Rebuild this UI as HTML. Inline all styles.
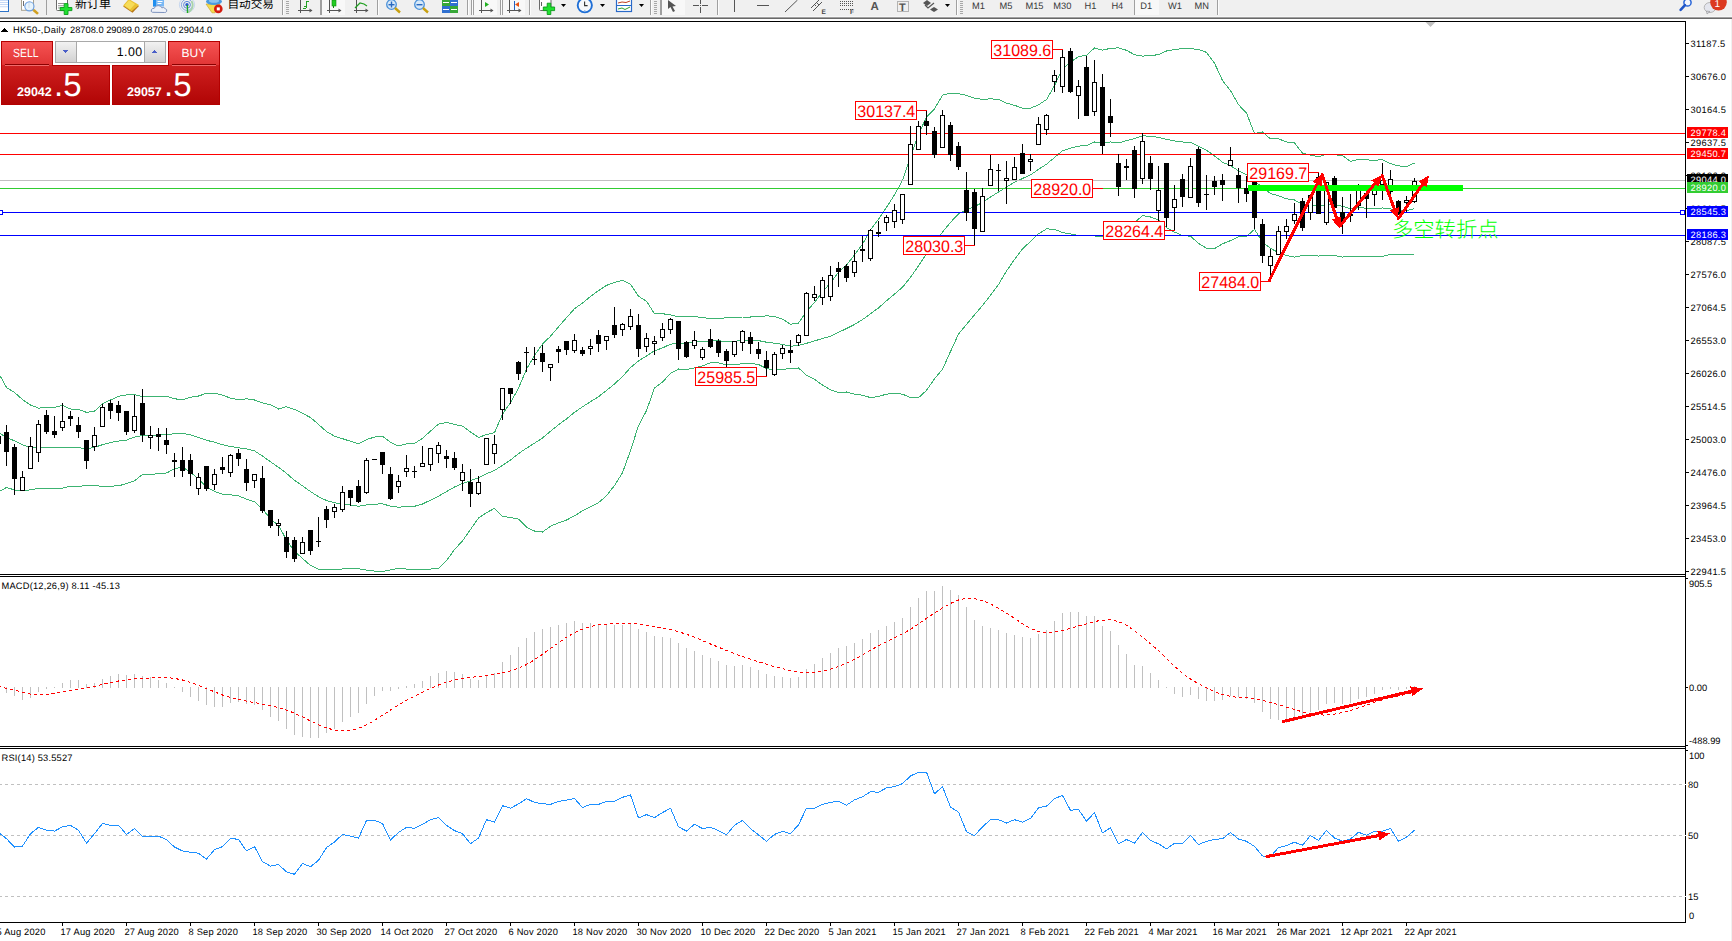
<!DOCTYPE html>
<html><head><meta charset="utf-8"><title>HK50 Daily</title>
<style>
html,body{margin:0;padding:0;background:#fff;width:1732px;height:941px;overflow:hidden;}
svg{display:block;}
text{white-space:pre;}
</style></head><body>
<svg width="1732" height="941" viewBox="0 0 1732 941" shape-rendering="crispEdges" text-rendering="geometricPrecision">
<defs>
<clipPath id="cmain"><rect x="0" y="22" width="1685" height="552"/></clipPath>
<clipPath id="cmacd"><rect x="0" y="577" width="1685" height="169"/></clipPath>
<clipPath id="crsi"><rect x="0" y="749" width="1685" height="173"/></clipPath>
<linearGradient id="gtab" x1="0" y1="0" x2="0" y2="1"><stop offset="0" stop-color="#f65454"/><stop offset="1" stop-color="#e13535"/></linearGradient>
<linearGradient id="gpan" x1="0" y1="0" x2="0" y2="1"><stop offset="0" stop-color="#e03030"/><stop offset="1" stop-color="#b00404"/></linearGradient>
<linearGradient id="gbtn" x1="0" y1="0" x2="0" y2="1"><stop offset="0" stop-color="#f2f2f2"/><stop offset="1" stop-color="#d2d2d2"/></linearGradient>
</defs>
<rect x="0" y="0" width="1732" height="941" fill="#fff"/>
<rect x="0" y="0" width="1732" height="16" fill="#f0f0f0"/>
<rect x="0" y="16" width="1732" height="1" fill="#f7f7f7"/>
<rect x="0" y="17" width="1732" height="1" fill="#a0a0a0"/>
<rect x="0" y="18" width="1732" height="1" fill="#696969"/>
<rect x="1731" y="19" width="1" height="922" fill="#f0f0f0"/>
<g clip-path="url(#cmain)" font-family="'Liberation Sans', Arial, sans-serif"><polyline points="-1.5,373.0 6.5,387.5 14.5,392.5 22.5,399.6 30.5,405.0 38.5,408.1 46.5,407.5 54.5,407.3 62.5,405.3 70.5,409.0 78.5,409.4 86.5,412.4 94.5,411.2 102.5,403.6 110.5,400.0 118.5,396.3 126.5,395.0 134.5,394.6 142.5,396.5 150.5,396.2 158.5,396.1 166.5,396.2 174.5,398.7 182.5,399.9 190.5,397.3 198.5,396.0 206.5,393.3 214.5,393.1 222.5,395.1 230.5,398.2 238.5,399.7 246.5,398.8 254.5,400.0 262.5,402.9 270.5,404.7 278.5,409.0 286.5,406.7 294.5,409.4 302.5,413.2 310.5,417.6 318.5,424.4 326.5,431.6 334.5,436.2 342.5,438.7 350.5,441.3 358.5,443.8 366.5,439.6 374.5,437.1 382.5,436.3 390.5,442.2 398.5,446.0 406.5,443.9 414.5,443.4 422.5,438.4 430.5,431.1 438.5,424.1 446.5,422.4 454.5,424.5 462.5,426.1 470.5,431.9 478.5,437.4 486.5,434.6 494.5,432.7 502.5,414.2 510.5,402.5 518.5,388.2 526.5,369.2 534.5,355.4 542.5,344.0 550.5,336.3 558.5,326.8 566.5,317.7 574.5,308.7 582.5,303.0 590.5,296.5 598.5,290.6 606.5,285.4 614.5,282.3 622.5,280.3 630.5,284.4 638.5,296.3 646.5,301.2 654.5,313.7 662.5,313.7 670.5,314.9 678.5,316.8 686.5,316.7 694.5,316.7 702.5,317.4 710.5,318.7 718.5,318.6 726.5,317.8 734.5,317.9 742.5,317.0 750.5,317.0 758.5,316.8 766.5,315.8 774.5,316.4 782.5,319.1 790.5,324.3 798.5,323.1 806.5,311.4 814.5,302.5 822.5,292.0 830.5,282.8 838.5,272.4 846.5,265.0 854.5,255.0 862.5,244.1 870.5,230.0 878.5,219.2 886.5,207.3 894.5,194.8 902.5,180.4 910.5,157.0 918.5,134.1 926.5,117.3 934.5,108.9 942.5,95.1 950.5,93.2 958.5,93.7 966.5,95.3 974.5,98.3 982.5,99.4 990.5,98.8 998.5,99.4 1006.5,103.1 1014.5,105.3 1022.5,108.1 1030.5,108.2 1038.5,104.9 1046.5,99.6 1054.5,85.7 1062.5,68.8 1070.5,62.2 1078.5,56.5 1086.5,55.5 1094.5,47.9 1102.5,50.2 1110.5,48.3 1118.5,47.9 1126.5,50.3 1134.5,54.7 1142.5,56.1 1150.5,55.7 1158.5,54.6 1166.5,51.0 1174.5,49.6 1182.5,48.6 1190.5,48.6 1198.5,49.5 1206.5,52.4 1214.5,63.1 1222.5,80.6 1230.5,90.7 1238.5,104.7 1246.5,113.0 1254.5,133.6 1262.5,131.9 1270.5,139.0 1278.5,138.9 1286.5,141.9 1294.5,143.0 1302.5,153.2 1310.5,155.1 1318.5,156.7 1326.5,154.1 1334.5,154.7 1342.5,155.6 1350.5,161.4 1358.5,159.4 1366.5,159.9 1374.5,160.3 1382.5,159.6 1390.5,163.6 1398.5,165.9 1406.5,166.6 1414.5,163.0" fill="none" stroke="#3cb371" stroke-width="1" /><polyline points="-1.5,432.7 6.5,437.4 14.5,440.9 22.5,444.8 30.5,447.3 38.5,447.8 46.5,447.4 54.5,447.5 62.5,447.6 70.5,447.6 78.5,447.6 86.5,448.8 94.5,447.3 102.5,444.7 110.5,442.5 118.5,441.1 126.5,440.1 134.5,437.1 142.5,435.6 150.5,435.3 158.5,434.9 166.5,434.6 174.5,433.7 182.5,433.4 190.5,434.8 198.5,437.4 206.5,440.3 214.5,442.2 222.5,444.7 230.5,446.5 238.5,447.8 246.5,448.9 254.5,450.9 262.5,456.1 270.5,461.8 278.5,467.3 286.5,473.3 294.5,480.4 302.5,485.8 310.5,491.6 318.5,496.7 326.5,500.5 334.5,502.8 342.5,503.9 350.5,505.0 358.5,506.3 366.5,504.9 374.5,504.1 382.5,503.9 390.5,506.1 398.5,507.2 406.5,506.5 414.5,506.3 422.5,504.0 430.5,500.1 438.5,496.2 446.5,491.6 454.5,487.0 462.5,483.5 470.5,480.7 478.5,477.7 486.5,473.6 494.5,470.5 502.5,465.3 510.5,460.1 518.5,453.6 526.5,448.2 534.5,443.2 542.5,438.0 550.5,431.3 558.5,424.8 566.5,418.9 574.5,412.3 582.5,406.8 590.5,401.7 598.5,396.7 606.5,390.5 614.5,383.9 622.5,376.5 630.5,367.6 638.5,360.9 646.5,356.0 654.5,350.8 662.5,347.9 670.5,344.2 678.5,342.9 686.5,343.2 694.5,342.2 702.5,341.6 710.5,340.8 718.5,340.8 726.5,341.4 734.5,341.4 742.5,340.3 750.5,340.1 758.5,340.6 766.5,342.2 774.5,343.2 782.5,344.4 790.5,346.2 798.5,345.5 806.5,343.3 814.5,340.9 822.5,338.5 830.5,336.3 838.5,332.4 846.5,328.5 854.5,324.5 862.5,319.6 870.5,313.8 878.5,307.9 886.5,300.7 894.5,294.1 902.5,287.3 910.5,277.3 918.5,265.9 926.5,253.8 934.5,243.8 942.5,232.2 950.5,222.3 958.5,213.9 966.5,209.9 974.5,206.6 982.5,202.4 990.5,197.1 998.5,192.0 1006.5,187.0 1014.5,182.3 1022.5,178.5 1030.5,174.9 1038.5,169.4 1046.5,164.2 1054.5,157.5 1062.5,150.7 1070.5,148.1 1078.5,146.1 1086.5,145.6 1094.5,142.0 1102.5,143.5 1110.5,141.9 1118.5,142.9 1126.5,140.6 1134.5,138.6 1142.5,135.8 1150.5,136.3 1158.5,137.3 1166.5,139.3 1174.5,140.9 1182.5,142.0 1190.5,142.4 1198.5,146.4 1206.5,150.3 1214.5,155.9 1222.5,162.2 1230.5,165.7 1238.5,170.8 1246.5,174.7 1254.5,181.4 1262.5,186.9 1270.5,193.6 1278.5,195.8 1286.5,198.8 1294.5,200.0 1302.5,204.4 1310.5,205.2 1318.5,206.4 1326.5,204.6 1334.5,205.1 1342.5,206.3 1350.5,208.7 1358.5,207.8 1366.5,208.1 1374.5,208.2 1382.5,208.0 1390.5,208.9 1398.5,210.3 1406.5,210.6 1414.5,208.7" fill="none" stroke="#3cb371" stroke-width="1" /><polyline points="-1.5,492.0 6.5,487.4 14.5,490.0 22.5,490.8 30.5,489.8 38.5,488.4 46.5,488.4 54.5,488.3 62.5,488.2 70.5,486.2 78.5,486.3 86.5,485.6 94.5,485.4 102.5,486.4 110.5,486.1 118.5,485.9 126.5,483.5 134.5,480.8 142.5,474.5 150.5,474.3 158.5,473.8 166.5,473.0 174.5,468.8 182.5,466.9 190.5,472.3 198.5,478.9 206.5,487.3 214.5,491.4 222.5,494.3 230.5,494.8 238.5,495.9 246.5,499.1 254.5,501.8 262.5,509.2 270.5,518.9 278.5,525.6 286.5,539.8 294.5,551.4 302.5,558.4 310.5,565.5 318.5,569.1 326.5,569.4 334.5,569.4 342.5,569.0 350.5,568.8 358.5,568.8 366.5,570.1 374.5,571.1 382.5,571.4 390.5,569.9 398.5,568.3 406.5,569.1 414.5,569.2 422.5,569.5 430.5,569.1 438.5,568.3 446.5,560.7 454.5,549.5 462.5,540.9 470.5,529.4 478.5,518.1 486.5,512.7 494.5,508.3 502.5,516.3 510.5,517.6 518.5,519.1 526.5,527.2 534.5,531.0 542.5,532.1 550.5,526.2 558.5,522.9 566.5,520.0 574.5,515.9 582.5,510.6 590.5,506.9 598.5,502.7 606.5,495.7 614.5,485.5 622.5,472.7 630.5,450.8 638.5,425.6 646.5,410.7 654.5,387.9 662.5,382.0 670.5,373.5 678.5,369.0 686.5,369.7 694.5,367.8 702.5,365.8 710.5,362.8 718.5,362.9 726.5,364.9 734.5,365.0 742.5,363.5 750.5,363.3 758.5,364.5 766.5,368.6 774.5,369.9 782.5,369.7 790.5,368.2 798.5,368.0 806.5,375.2 814.5,379.4 822.5,385.0 830.5,389.8 838.5,392.5 846.5,392.0 854.5,394.1 862.5,395.2 870.5,397.6 878.5,396.5 886.5,394.1 894.5,393.5 902.5,394.1 910.5,397.6 918.5,397.7 926.5,390.4 934.5,378.8 942.5,369.3 950.5,351.5 958.5,334.1 966.5,324.5 974.5,314.9 982.5,305.4 990.5,295.3 998.5,284.6 1006.5,271.0 1014.5,259.4 1022.5,248.8 1030.5,241.5 1038.5,233.8 1046.5,228.9 1054.5,229.3 1062.5,232.6 1070.5,233.9 1078.5,235.6 1086.5,235.7 1094.5,236.0 1102.5,236.8 1110.5,235.4 1118.5,237.8 1126.5,230.9 1134.5,222.6 1142.5,215.6 1150.5,217.0 1158.5,220.1 1166.5,227.6 1174.5,232.1 1182.5,235.5 1190.5,236.2 1198.5,243.3 1206.5,248.2 1214.5,248.6 1222.5,243.8 1230.5,240.6 1238.5,236.8 1246.5,236.4 1254.5,229.3 1262.5,242.0 1270.5,248.3 1278.5,252.7 1286.5,255.6 1294.5,257.1 1302.5,255.6 1310.5,255.2 1318.5,256.1 1326.5,255.1 1334.5,255.5 1342.5,257.1 1350.5,256.1 1358.5,256.3 1366.5,256.3 1374.5,256.2 1382.5,256.4 1390.5,254.3 1398.5,254.6 1406.5,254.5 1414.5,254.4" fill="none" stroke="#3cb371" stroke-width="1" /><rect x="0" y="133" width="1685" height="1" fill="#ff0000"/><rect x="0" y="154" width="1685" height="1" fill="#ff0000"/><rect x="0" y="180" width="1685" height="1" fill="#c0c0c0"/><rect x="0" y="188" width="1685" height="1" fill="#32cd32"/><rect x="0" y="212" width="1685" height="1" fill="#0000ff"/><rect x="0" y="235" width="1685" height="1" fill="#0000ff"/><rect x="-1.5" y="210.5" width="4" height="4" fill="#fff" stroke="#0000ff"/><rect x="1680.5" y="210.5" width="4" height="4" fill="#fff" stroke="#0000ff"/><rect x="-2" y="425" width="1" height="27"/><rect x="-4" y="436" width="5" height="8"/><rect x="6" y="425" width="1" height="41"/><rect x="4" y="432" width="5" height="20"/><rect x="14" y="444" width="1" height="51"/><rect x="12" y="447" width="5" height="32"/><rect x="22" y="471" width="1" height="20"/><rect x="20" y="477" width="5" height="14"/><rect x="21" y="478" width="3" height="12" fill="#fff"/><rect x="30" y="437" width="1" height="32"/><rect x="28" y="446" width="5" height="23"/><rect x="29" y="447" width="3" height="21" fill="#fff"/><rect x="38" y="420" width="1" height="42"/><rect x="36" y="424" width="5" height="29"/><rect x="37" y="425" width="3" height="27" fill="#fff"/><rect x="46" y="410" width="1" height="24"/><rect x="44" y="415" width="5" height="17"/><rect x="54" y="416" width="1" height="22"/><rect x="52" y="431" width="5" height="4"/><rect x="62" y="403" width="1" height="28"/><rect x="60" y="421" width="5" height="7"/><rect x="61" y="422" width="3" height="5" fill="#fff"/><rect x="70" y="411" width="1" height="15"/><rect x="68" y="416" width="5" height="3"/><rect x="78" y="417" width="1" height="21"/><rect x="76" y="425" width="5" height="7"/><rect x="86" y="440" width="1" height="29"/><rect x="84" y="440" width="5" height="21"/><rect x="94" y="427" width="1" height="24"/><rect x="92" y="435" width="5" height="12"/><rect x="93" y="436" width="3" height="10" fill="#fff"/><rect x="102" y="404" width="1" height="23"/><rect x="100" y="407" width="5" height="20"/><rect x="101" y="408" width="3" height="18" fill="#fff"/><rect x="110" y="400" width="1" height="19"/><rect x="108" y="403" width="5" height="8"/><rect x="118" y="401" width="1" height="20"/><rect x="116" y="405" width="5" height="8"/><rect x="126" y="411" width="1" height="24"/><rect x="124" y="411" width="5" height="21"/><rect x="134" y="395" width="1" height="38"/><rect x="132" y="416" width="5" height="15"/><rect x="133" y="417" width="3" height="13" fill="#fff"/><rect x="142" y="389" width="1" height="53"/><rect x="140" y="403" width="5" height="32"/><rect x="150" y="426" width="1" height="23"/><rect x="148" y="435" width="5" height="3"/><rect x="149" y="436" width="3" height="1" fill="#fff"/><rect x="158" y="428" width="1" height="23"/><rect x="156" y="434" width="5" height="3"/><rect x="166" y="428" width="1" height="26"/><rect x="164" y="440" width="5" height="5"/><rect x="174" y="453" width="1" height="24"/><rect x="172" y="460" width="5" height="2"/><rect x="182" y="447" width="1" height="30"/><rect x="180" y="460" width="5" height="11"/><rect x="190" y="454" width="1" height="32"/><rect x="188" y="460" width="5" height="14"/><rect x="198" y="473" width="1" height="22"/><rect x="196" y="477" width="5" height="12"/><rect x="197" y="478" width="3" height="10" fill="#fff"/><rect x="206" y="466" width="1" height="25"/><rect x="204" y="466" width="5" height="23"/><rect x="214" y="469" width="1" height="21"/><rect x="212" y="474" width="5" height="11"/><rect x="213" y="475" width="3" height="9" fill="#fff"/><rect x="222" y="457" width="1" height="17"/><rect x="220" y="467" width="5" height="3"/><rect x="230" y="454" width="1" height="23"/><rect x="228" y="455" width="5" height="18"/><rect x="229" y="456" width="3" height="16" fill="#fff"/><rect x="238" y="449" width="1" height="17"/><rect x="236" y="453" width="5" height="6"/><rect x="246" y="459" width="1" height="32"/><rect x="244" y="469" width="5" height="14"/><rect x="254" y="474" width="1" height="14"/><rect x="252" y="474" width="5" height="7"/><rect x="253" y="475" width="3" height="5" fill="#fff"/><rect x="262" y="466" width="1" height="47"/><rect x="260" y="478" width="5" height="33"/><rect x="270" y="510" width="1" height="18"/><rect x="268" y="510" width="5" height="16"/><rect x="278" y="519" width="1" height="17"/><rect x="276" y="523" width="5" height="3"/><rect x="277" y="524" width="3" height="1" fill="#fff"/><rect x="286" y="531" width="1" height="27"/><rect x="284" y="537" width="5" height="15"/><rect x="294" y="537" width="1" height="25"/><rect x="292" y="540" width="5" height="19"/><rect x="302" y="537" width="1" height="17"/><rect x="300" y="542" width="5" height="12"/><rect x="301" y="543" width="3" height="10" fill="#fff"/><rect x="310" y="530" width="1" height="25"/><rect x="308" y="530" width="5" height="21"/><rect x="318" y="517" width="1" height="30"/><rect x="316" y="541" width="5" height="1"/><rect x="326" y="506" width="1" height="22"/><rect x="324" y="509" width="5" height="11"/><rect x="334" y="504" width="1" height="14"/><rect x="332" y="507" width="5" height="5"/><rect x="333" y="508" width="3" height="3" fill="#fff"/><rect x="342" y="486" width="1" height="26"/><rect x="340" y="492" width="5" height="18"/><rect x="341" y="493" width="3" height="16" fill="#fff"/><rect x="350" y="490" width="1" height="16"/><rect x="348" y="490" width="5" height="8"/><rect x="358" y="480" width="1" height="23"/><rect x="356" y="486" width="5" height="16"/><rect x="366" y="458" width="1" height="36"/><rect x="364" y="460" width="5" height="33"/><rect x="365" y="461" width="3" height="31" fill="#fff"/><rect x="374" y="459" width="1" height="1"/><rect x="372" y="459" width="5" height="1"/><rect x="382" y="452" width="1" height="22"/><rect x="380" y="452" width="5" height="13"/><rect x="390" y="467" width="1" height="33"/><rect x="388" y="474" width="5" height="25"/><rect x="398" y="475" width="1" height="18"/><rect x="396" y="481" width="5" height="6"/><rect x="397" y="482" width="3" height="4" fill="#fff"/><rect x="406" y="455" width="1" height="22"/><rect x="404" y="468" width="5" height="4"/><rect x="405" y="469" width="3" height="2" fill="#fff"/><rect x="414" y="466" width="1" height="12"/><rect x="412" y="471" width="5" height="1"/><rect x="422" y="446" width="1" height="21"/><rect x="420" y="463" width="5" height="4"/><rect x="421" y="464" width="3" height="2" fill="#fff"/><rect x="430" y="448" width="1" height="23"/><rect x="428" y="448" width="5" height="17"/><rect x="429" y="449" width="3" height="15" fill="#fff"/><rect x="438" y="442" width="1" height="21"/><rect x="436" y="445" width="5" height="9"/><rect x="437" y="446" width="3" height="7" fill="#fff"/><rect x="446" y="450" width="1" height="18"/><rect x="444" y="456" width="5" height="3"/><rect x="454" y="452" width="1" height="18"/><rect x="452" y="458" width="5" height="10"/><rect x="462" y="464" width="1" height="27"/><rect x="460" y="472" width="5" height="9"/><rect x="461" y="473" width="3" height="7" fill="#fff"/><rect x="470" y="469" width="1" height="38"/><rect x="468" y="482" width="5" height="12"/><rect x="478" y="476" width="1" height="19"/><rect x="476" y="482" width="5" height="12"/><rect x="477" y="483" width="3" height="10" fill="#fff"/><rect x="486" y="438" width="1" height="27"/><rect x="484" y="438" width="5" height="27"/><rect x="485" y="439" width="3" height="25" fill="#fff"/><rect x="494" y="435" width="1" height="29"/><rect x="492" y="444" width="5" height="10"/><rect x="493" y="445" width="3" height="8" fill="#fff"/><rect x="502" y="388" width="1" height="32"/><rect x="500" y="388" width="5" height="22"/><rect x="501" y="389" width="3" height="20" fill="#fff"/><rect x="510" y="388" width="1" height="16"/><rect x="508" y="388" width="5" height="6"/><rect x="518" y="361" width="1" height="19"/><rect x="516" y="362" width="5" height="12"/><rect x="526" y="347" width="1" height="25"/><rect x="524" y="352" width="5" height="1"/><rect x="534" y="347" width="1" height="18"/><rect x="532" y="359" width="5" height="1"/><rect x="542" y="345" width="1" height="27"/><rect x="540" y="353" width="5" height="9"/><rect x="550" y="364" width="1" height="17"/><rect x="548" y="364" width="5" height="4"/><rect x="549" y="365" width="3" height="2" fill="#fff"/><rect x="558" y="346" width="1" height="17"/><rect x="556" y="349" width="5" height="3"/><rect x="566" y="341" width="1" height="14"/><rect x="564" y="341" width="5" height="9"/><rect x="574" y="334" width="1" height="19"/><rect x="572" y="340" width="5" height="11"/><rect x="573" y="341" width="3" height="9" fill="#fff"/><rect x="582" y="347" width="1" height="9"/><rect x="580" y="350" width="5" height="4"/><rect x="590" y="339" width="1" height="16"/><rect x="588" y="346" width="5" height="3"/><rect x="589" y="347" width="3" height="1" fill="#fff"/><rect x="598" y="330" width="1" height="22"/><rect x="596" y="335" width="5" height="9"/><rect x="606" y="336" width="1" height="14"/><rect x="604" y="336" width="5" height="5"/><rect x="605" y="337" width="3" height="3" fill="#fff"/><rect x="614" y="307" width="1" height="31"/><rect x="612" y="325" width="5" height="10"/><rect x="622" y="323" width="1" height="13"/><rect x="620" y="324" width="5" height="6"/><rect x="621" y="325" width="3" height="4" fill="#fff"/><rect x="630" y="309" width="1" height="21"/><rect x="628" y="316" width="5" height="11"/><rect x="629" y="317" width="3" height="9" fill="#fff"/><rect x="638" y="314" width="1" height="43"/><rect x="636" y="325" width="5" height="24"/><rect x="646" y="333" width="1" height="19"/><rect x="644" y="338" width="5" height="9"/><rect x="645" y="339" width="3" height="7" fill="#fff"/><rect x="654" y="336" width="1" height="19"/><rect x="652" y="341" width="5" height="3"/><rect x="653" y="342" width="3" height="1" fill="#fff"/><rect x="662" y="323" width="1" height="18"/><rect x="660" y="329" width="5" height="9"/><rect x="661" y="330" width="3" height="7" fill="#fff"/><rect x="670" y="318" width="1" height="16"/><rect x="668" y="319" width="5" height="11"/><rect x="669" y="320" width="3" height="9" fill="#fff"/><rect x="678" y="321" width="1" height="39"/><rect x="676" y="321" width="5" height="28"/><rect x="686" y="341" width="1" height="17"/><rect x="684" y="342" width="5" height="15"/><rect x="694" y="331" width="1" height="18"/><rect x="692" y="340" width="5" height="6"/><rect x="693" y="341" width="3" height="4" fill="#fff"/><rect x="702" y="347" width="1" height="13"/><rect x="700" y="349" width="5" height="9"/><rect x="701" y="350" width="3" height="7" fill="#fff"/><rect x="710" y="329" width="1" height="19"/><rect x="708" y="339" width="5" height="8"/><rect x="718" y="339" width="1" height="18"/><rect x="716" y="341" width="5" height="12"/><rect x="726" y="349" width="1" height="21"/><rect x="724" y="351" width="5" height="10"/><rect x="734" y="341" width="1" height="16"/><rect x="732" y="341" width="5" height="14"/><rect x="733" y="342" width="3" height="12" fill="#fff"/><rect x="742" y="330" width="1" height="21"/><rect x="740" y="331" width="5" height="12"/><rect x="741" y="332" width="3" height="10" fill="#fff"/><rect x="750" y="332" width="1" height="22"/><rect x="748" y="337" width="5" height="7"/><rect x="758" y="342" width="1" height="17"/><rect x="756" y="349" width="5" height="5"/><rect x="766" y="351" width="1" height="26"/><rect x="764" y="360" width="5" height="8"/><rect x="774" y="352" width="1" height="24"/><rect x="772" y="354" width="5" height="21"/><rect x="773" y="355" width="3" height="19" fill="#fff"/><rect x="782" y="345" width="1" height="14"/><rect x="780" y="348" width="5" height="6"/><rect x="781" y="349" width="3" height="4" fill="#fff"/><rect x="790" y="340" width="1" height="23"/><rect x="788" y="350" width="5" height="3"/><rect x="798" y="334" width="1" height="12"/><rect x="796" y="335" width="5" height="8"/><rect x="797" y="336" width="3" height="6" fill="#fff"/><rect x="806" y="292" width="1" height="44"/><rect x="804" y="293" width="5" height="43"/><rect x="805" y="294" width="3" height="41" fill="#fff"/><rect x="814" y="286" width="1" height="15"/><rect x="812" y="294" width="5" height="4"/><rect x="813" y="295" width="3" height="2" fill="#fff"/><rect x="822" y="277" width="1" height="28"/><rect x="820" y="280" width="5" height="18"/><rect x="821" y="281" width="3" height="16" fill="#fff"/><rect x="830" y="266" width="1" height="35"/><rect x="828" y="275" width="5" height="22"/><rect x="829" y="276" width="3" height="20" fill="#fff"/><rect x="838" y="262" width="1" height="25"/><rect x="836" y="268" width="5" height="4"/><rect x="846" y="264" width="1" height="18"/><rect x="844" y="266" width="5" height="12"/><rect x="854" y="250" width="1" height="27"/><rect x="852" y="261" width="5" height="12"/><rect x="853" y="262" width="3" height="10" fill="#fff"/><rect x="862" y="236" width="1" height="26"/><rect x="860" y="249" width="5" height="2"/><rect x="870" y="229" width="1" height="32"/><rect x="868" y="230" width="5" height="29"/><rect x="869" y="231" width="3" height="27" fill="#fff"/><rect x="878" y="221" width="1" height="16"/><rect x="876" y="232" width="5" height="2"/><rect x="886" y="215" width="1" height="16"/><rect x="884" y="217" width="5" height="6"/><rect x="885" y="218" width="3" height="4" fill="#fff"/><rect x="894" y="204" width="1" height="24"/><rect x="892" y="210" width="5" height="12"/><rect x="893" y="211" width="3" height="10" fill="#fff"/><rect x="902" y="194" width="1" height="30"/><rect x="900" y="194" width="5" height="26"/><rect x="901" y="195" width="3" height="24" fill="#fff"/><rect x="910" y="126" width="1" height="59"/><rect x="908" y="144" width="5" height="41"/><rect x="909" y="145" width="3" height="39" fill="#fff"/><rect x="918" y="121" width="1" height="29"/><rect x="916" y="126" width="5" height="24"/><rect x="917" y="127" width="3" height="22" fill="#fff"/><rect x="926" y="110" width="1" height="25"/><rect x="924" y="121" width="5" height="5"/><rect x="934" y="127" width="1" height="31"/><rect x="932" y="131" width="5" height="24"/><rect x="942" y="110" width="1" height="38"/><rect x="940" y="115" width="5" height="33"/><rect x="941" y="116" width="3" height="31" fill="#fff"/><rect x="950" y="122" width="1" height="39"/><rect x="948" y="125" width="5" height="30"/><rect x="958" y="142" width="1" height="28"/><rect x="956" y="146" width="5" height="21"/><rect x="966" y="172" width="1" height="49"/><rect x="964" y="190" width="5" height="23"/><rect x="974" y="189" width="1" height="56"/><rect x="972" y="192" width="5" height="37"/><rect x="982" y="188" width="1" height="44"/><rect x="980" y="196" width="5" height="36"/><rect x="981" y="197" width="3" height="34" fill="#fff"/><rect x="990" y="155" width="1" height="31"/><rect x="988" y="169" width="5" height="17"/><rect x="989" y="170" width="3" height="15" fill="#fff"/><rect x="998" y="164" width="1" height="27"/><rect x="996" y="170" width="5" height="1"/><rect x="1006" y="161" width="1" height="43"/><rect x="1004" y="178" width="5" height="3"/><rect x="1005" y="179" width="3" height="1" fill="#fff"/><rect x="1014" y="157" width="1" height="23"/><rect x="1012" y="167" width="5" height="13"/><rect x="1013" y="168" width="3" height="11" fill="#fff"/><rect x="1022" y="144" width="1" height="30"/><rect x="1020" y="153" width="5" height="21"/><rect x="1030" y="154" width="1" height="17"/><rect x="1028" y="159" width="5" height="3"/><rect x="1029" y="160" width="3" height="1" fill="#fff"/><rect x="1038" y="117" width="1" height="28"/><rect x="1036" y="124" width="5" height="21"/><rect x="1037" y="125" width="3" height="19" fill="#fff"/><rect x="1046" y="114" width="1" height="21"/><rect x="1044" y="115" width="5" height="15"/><rect x="1045" y="116" width="3" height="13" fill="#fff"/><rect x="1054" y="70" width="1" height="22"/><rect x="1052" y="75" width="5" height="7"/><rect x="1053" y="76" width="3" height="5" fill="#fff"/><rect x="1062" y="49" width="1" height="44"/><rect x="1060" y="57" width="5" height="30"/><rect x="1061" y="58" width="3" height="28" fill="#fff"/><rect x="1070" y="48" width="1" height="45"/><rect x="1068" y="51" width="5" height="41"/><rect x="1078" y="80" width="1" height="39"/><rect x="1076" y="86" width="5" height="10"/><rect x="1077" y="87" width="3" height="8" fill="#fff"/><rect x="1086" y="56" width="1" height="60"/><rect x="1084" y="67" width="5" height="49"/><rect x="1094" y="60" width="1" height="56"/><rect x="1092" y="82" width="5" height="30"/><rect x="1093" y="83" width="3" height="28" fill="#fff"/><rect x="1102" y="74" width="1" height="80"/><rect x="1100" y="87" width="5" height="59"/><rect x="1110" y="99" width="1" height="38"/><rect x="1108" y="116" width="5" height="7"/><rect x="1118" y="154" width="1" height="42"/><rect x="1116" y="163" width="5" height="24"/><rect x="1126" y="159" width="1" height="21"/><rect x="1124" y="166" width="5" height="2"/><rect x="1134" y="146" width="1" height="52"/><rect x="1132" y="150" width="5" height="39"/><rect x="1142" y="133" width="1" height="51"/><rect x="1140" y="141" width="5" height="38"/><rect x="1141" y="142" width="3" height="36" fill="#fff"/><rect x="1150" y="156" width="1" height="34"/><rect x="1148" y="163" width="5" height="16"/><rect x="1158" y="166" width="1" height="59"/><rect x="1156" y="190" width="5" height="21"/><rect x="1157" y="191" width="3" height="19" fill="#fff"/><rect x="1166" y="163" width="1" height="64"/><rect x="1164" y="163" width="5" height="55"/><rect x="1174" y="185" width="1" height="45"/><rect x="1172" y="199" width="5" height="9"/><rect x="1173" y="200" width="3" height="7" fill="#fff"/><rect x="1182" y="174" width="1" height="33"/><rect x="1180" y="179" width="5" height="18"/><rect x="1190" y="158" width="1" height="40"/><rect x="1188" y="166" width="5" height="32"/><rect x="1189" y="167" width="3" height="30" fill="#fff"/><rect x="1198" y="147" width="1" height="60"/><rect x="1196" y="149" width="5" height="54"/><rect x="1206" y="175" width="1" height="35"/><rect x="1204" y="194" width="5" height="1"/><rect x="1214" y="176" width="1" height="19"/><rect x="1212" y="181" width="5" height="6"/><rect x="1222" y="174" width="1" height="27"/><rect x="1220" y="180" width="5" height="5"/><rect x="1230" y="147" width="1" height="19"/><rect x="1228" y="160" width="5" height="6"/><rect x="1229" y="161" width="3" height="4" fill="#fff"/><rect x="1238" y="168" width="1" height="35"/><rect x="1236" y="175" width="5" height="13"/><rect x="1246" y="176" width="1" height="26"/><rect x="1244" y="188" width="5" height="6"/><rect x="1254" y="182" width="1" height="47"/><rect x="1252" y="182" width="5" height="36"/><rect x="1262" y="219" width="1" height="44"/><rect x="1260" y="224" width="5" height="32"/><rect x="1270" y="249" width="1" height="32"/><rect x="1268" y="256" width="5" height="10"/><rect x="1269" y="257" width="3" height="8" fill="#fff"/><rect x="1278" y="226" width="1" height="29"/><rect x="1276" y="231" width="5" height="24"/><rect x="1277" y="232" width="3" height="22" fill="#fff"/><rect x="1286" y="219" width="1" height="20"/><rect x="1284" y="226" width="5" height="6"/><rect x="1285" y="227" width="3" height="4" fill="#fff"/><rect x="1294" y="203" width="1" height="21"/><rect x="1292" y="214" width="5" height="7"/><rect x="1293" y="215" width="3" height="5" fill="#fff"/><rect x="1302" y="198" width="1" height="33"/><rect x="1300" y="201" width="5" height="27"/><rect x="1310" y="195" width="1" height="25"/><rect x="1308" y="195" width="5" height="18"/><rect x="1309" y="196" width="3" height="16" fill="#fff"/><rect x="1318" y="172" width="1" height="42"/><rect x="1316" y="177" width="5" height="37"/><rect x="1326" y="182" width="1" height="43"/><rect x="1324" y="182" width="5" height="41"/><rect x="1325" y="183" width="3" height="39" fill="#fff"/><rect x="1334" y="176" width="1" height="34"/><rect x="1332" y="178" width="5" height="30"/><rect x="1342" y="197" width="1" height="37"/><rect x="1340" y="212" width="5" height="10"/><rect x="1350" y="194" width="1" height="28"/><rect x="1348" y="214" width="5" height="2"/><rect x="1358" y="184" width="1" height="26"/><rect x="1356" y="185" width="5" height="21"/><rect x="1357" y="186" width="3" height="19" fill="#fff"/><rect x="1366" y="186" width="1" height="32"/><rect x="1364" y="193" width="5" height="6"/><rect x="1374" y="188" width="1" height="18"/><rect x="1372" y="190" width="5" height="5"/><rect x="1373" y="191" width="3" height="3" fill="#fff"/><rect x="1382" y="163" width="1" height="37"/><rect x="1380" y="180" width="5" height="5"/><rect x="1381" y="181" width="3" height="3" fill="#fff"/><rect x="1390" y="170" width="1" height="25"/><rect x="1388" y="179" width="5" height="13"/><rect x="1389" y="180" width="3" height="11" fill="#fff"/><rect x="1398" y="200" width="1" height="15"/><rect x="1396" y="201" width="5" height="13"/><rect x="1406" y="196" width="1" height="16"/><rect x="1404" y="200" width="5" height="3"/><rect x="1405" y="201" width="3" height="1" fill="#fff"/><rect x="1414" y="178" width="1" height="25"/><rect x="1412" y="181" width="5" height="21"/><rect x="1413" y="182" width="3" height="19" fill="#fff"/><rect x="1052" y="49" width="11" height="1" fill="#ff0000"/><rect x="991.5" y="40.5" width="61" height="18" fill="#fff" stroke="#ff0000"/><text x="993.3" y="56" font-size="16.6" fill="#ff0000" textLength="58" lengthAdjust="spacingAndGlyphs">31089.6</text><rect x="916" y="110" width="11" height="1" fill="#ff0000"/><rect x="855.5" y="101.5" width="61" height="18" fill="#fff" stroke="#ff0000"/><text x="857.3" y="117" font-size="16.6" fill="#ff0000" textLength="58" lengthAdjust="spacingAndGlyphs">30137.4</text><rect x="964" y="245" width="11" height="1" fill="#ff0000"/><rect x="903.5" y="236.5" width="61" height="18" fill="#fff" stroke="#ff0000"/><text x="905.3" y="252" font-size="16.6" fill="#ff0000" textLength="58" lengthAdjust="spacingAndGlyphs">28030.3</text><rect x="1092" y="188" width="11" height="1" fill="#ff0000"/><rect x="1031.5" y="179.5" width="61" height="18" fill="#fff" stroke="#ff0000"/><text x="1033.3" y="195" font-size="16.6" fill="#ff0000" textLength="58" lengthAdjust="spacingAndGlyphs">28920.0</text><rect x="1164" y="230" width="11" height="1" fill="#ff0000"/><rect x="1103.5" y="221.5" width="61" height="18" fill="#fff" stroke="#ff0000"/><text x="1105.3" y="237" font-size="16.6" fill="#ff0000" textLength="58" lengthAdjust="spacingAndGlyphs">28264.4</text><rect x="756" y="376" width="11" height="1" fill="#ff0000"/><rect x="695.5" y="367.5" width="61" height="18" fill="#fff" stroke="#ff0000"/><text x="697.3" y="383" font-size="16.6" fill="#ff0000" textLength="58" lengthAdjust="spacingAndGlyphs">25985.5</text><rect x="1308" y="172" width="11" height="1" fill="#ff0000"/><rect x="1247.5" y="163.5" width="61" height="18" fill="#fff" stroke="#ff0000"/><text x="1249.3" y="179" font-size="16.6" fill="#ff0000" textLength="58" lengthAdjust="spacingAndGlyphs">29169.7</text><rect x="1260" y="281" width="11" height="1" fill="#ff0000"/><rect x="1199.5" y="272.5" width="61" height="18" fill="#fff" stroke="#ff0000"/><text x="1201.3" y="288" font-size="16.6" fill="#ff0000" textLength="58" lengthAdjust="spacingAndGlyphs">27484.0</text><rect x="1248" y="185" width="215" height="6" fill="#00ff00"/><line x1="1269" y1="281" x2="1318.0" y2="182.1" stroke="#ff0000" stroke-width="3" stroke-linecap="round"/><polygon points="1322,174 1321.6,186.1 1312.6,181.6" fill="#ff0000"/><line x1="1322" y1="174" x2="1337.2" y2="220.0" stroke="#ff0000" stroke-width="3" stroke-linecap="round"/><polygon points="1340,228.5 1331.8,219.6 1341.3,216.5" fill="#ff0000"/><line x1="1340" y1="226" x2="1376.3" y2="181.9" stroke="#ff0000" stroke-width="3" stroke-linecap="round"/><polygon points="1382,175 1378.9,186.7 1371.1,180.3" fill="#ff0000"/><line x1="1382" y1="175" x2="1394.9" y2="210.5" stroke="#ff0000" stroke-width="3" stroke-linecap="round"/><polygon points="1398,219 1389.5,210.4 1398.9,207.0" fill="#ff0000"/><line x1="1398" y1="219" x2="1423.8" y2="182.6" stroke="#ff0000" stroke-width="3" stroke-linecap="round"/><polygon points="1429,175.3 1426.7,187.2 1418.6,181.4" fill="#ff0000"/><text x="1392" y="236.5" font-size="21.3" fill="#00ff00" font-family="'Liberation Sans', 'Noto Sans CJK SC', sans-serif" font-weight="300">多空转折点</text></g>
<g clip-path="url(#cmacd)"><g fill="#c0c0c0"><rect x="6" y="687" width="1" height="6"/><rect x="14" y="687" width="1" height="9"/><rect x="22" y="687" width="1" height="13"/><rect x="30" y="687" width="1" height="11"/><rect x="38" y="687" width="1" height="5"/><rect x="46" y="687" width="1" height="2"/><rect x="54" y="687" width="1" height="1"/><rect x="62" y="683" width="1" height="5"/><rect x="70" y="680" width="1" height="8"/><rect x="78" y="680" width="1" height="8"/><rect x="86" y="684" width="1" height="4"/><rect x="94" y="683" width="1" height="5"/><rect x="102" y="679" width="1" height="9"/><rect x="110" y="676" width="1" height="12"/><rect x="118" y="674" width="1" height="14"/><rect x="126" y="675" width="1" height="13"/><rect x="134" y="674" width="1" height="14"/><rect x="142" y="676" width="1" height="12"/><rect x="150" y="677" width="1" height="11"/><rect x="158" y="680" width="1" height="8"/><rect x="166" y="683" width="1" height="5"/><rect x="174" y="687" width="1" height="1"/><rect x="182" y="687" width="1" height="5"/><rect x="190" y="687" width="1" height="10"/><rect x="198" y="687" width="1" height="14"/><rect x="206" y="687" width="1" height="18"/><rect x="214" y="687" width="1" height="20"/><rect x="222" y="687" width="1" height="20"/><rect x="230" y="687" width="1" height="16"/><rect x="238" y="687" width="1" height="15"/><rect x="246" y="687" width="1" height="17"/><rect x="254" y="687" width="1" height="18"/><rect x="262" y="687" width="1" height="23"/><rect x="270" y="687" width="1" height="30"/><rect x="278" y="687" width="1" height="34"/><rect x="286" y="687" width="1" height="42"/><rect x="294" y="687" width="1" height="48"/><rect x="302" y="687" width="1" height="50"/><rect x="310" y="687" width="1" height="51"/><rect x="318" y="687" width="1" height="51"/><rect x="326" y="687" width="1" height="46"/><rect x="334" y="687" width="1" height="42"/><rect x="342" y="687" width="1" height="35"/><rect x="350" y="687" width="1" height="30"/><rect x="358" y="687" width="1" height="26"/><rect x="366" y="687" width="1" height="17"/><rect x="374" y="687" width="1" height="9"/><rect x="382" y="687" width="1" height="4"/><rect x="390" y="687" width="1" height="4"/><rect x="398" y="687" width="1" height="2"/><rect x="406" y="686" width="1" height="2"/><rect x="414" y="684" width="1" height="4"/><rect x="422" y="681" width="1" height="7"/><rect x="430" y="676" width="1" height="12"/><rect x="438" y="673" width="1" height="15"/><rect x="446" y="671" width="1" height="17"/><rect x="454" y="672" width="1" height="16"/><rect x="462" y="674" width="1" height="14"/><rect x="470" y="679" width="1" height="9"/><rect x="478" y="680" width="1" height="8"/><rect x="486" y="675" width="1" height="13"/><rect x="494" y="673" width="1" height="15"/><rect x="502" y="662" width="1" height="26"/><rect x="510" y="655" width="1" height="33"/><rect x="518" y="647" width="1" height="41"/><rect x="526" y="638" width="1" height="50"/><rect x="534" y="632" width="1" height="56"/><rect x="542" y="629" width="1" height="59"/><rect x="550" y="627" width="1" height="61"/><rect x="558" y="625" width="1" height="63"/><rect x="566" y="623" width="1" height="65"/><rect x="574" y="621" width="1" height="67"/><rect x="582" y="623" width="1" height="65"/><rect x="590" y="623" width="1" height="65"/><rect x="598" y="624" width="1" height="64"/><rect x="606" y="624" width="1" height="64"/><rect x="614" y="625" width="1" height="63"/><rect x="622" y="625" width="1" height="63"/><rect x="630" y="624" width="1" height="64"/><rect x="638" y="629" width="1" height="59"/><rect x="646" y="632" width="1" height="56"/><rect x="654" y="636" width="1" height="52"/><rect x="662" y="637" width="1" height="51"/><rect x="670" y="638" width="1" height="50"/><rect x="678" y="643" width="1" height="45"/><rect x="686" y="648" width="1" height="40"/><rect x="694" y="651" width="1" height="37"/><rect x="702" y="655" width="1" height="33"/><rect x="710" y="658" width="1" height="30"/><rect x="718" y="661" width="1" height="27"/><rect x="726" y="665" width="1" height="23"/><rect x="734" y="666" width="1" height="22"/><rect x="742" y="665" width="1" height="23"/><rect x="750" y="667" width="1" height="21"/><rect x="758" y="670" width="1" height="18"/><rect x="766" y="674" width="1" height="14"/><rect x="774" y="676" width="1" height="12"/><rect x="782" y="677" width="1" height="11"/><rect x="790" y="678" width="1" height="10"/><rect x="798" y="677" width="1" height="11"/><rect x="806" y="669" width="1" height="19"/><rect x="814" y="664" width="1" height="24"/><rect x="822" y="658" width="1" height="30"/><rect x="830" y="653" width="1" height="35"/><rect x="838" y="648" width="1" height="40"/><rect x="846" y="646" width="1" height="42"/><rect x="854" y="643" width="1" height="45"/><rect x="862" y="639" width="1" height="49"/><rect x="870" y="633" width="1" height="55"/><rect x="878" y="630" width="1" height="58"/><rect x="886" y="626" width="1" height="62"/><rect x="894" y="622" width="1" height="66"/><rect x="902" y="618" width="1" height="70"/><rect x="910" y="607" width="1" height="81"/><rect x="918" y="598" width="1" height="90"/><rect x="926" y="591" width="1" height="97"/><rect x="934" y="591" width="1" height="97"/><rect x="942" y="586" width="1" height="102"/><rect x="950" y="590" width="1" height="98"/><rect x="958" y="595" width="1" height="93"/><rect x="966" y="607" width="1" height="81"/><rect x="974" y="620" width="1" height="68"/><rect x="982" y="626" width="1" height="62"/><rect x="990" y="628" width="1" height="60"/><rect x="998" y="630" width="1" height="58"/><rect x="1006" y="633" width="1" height="55"/><rect x="1014" y="635" width="1" height="53"/><rect x="1022" y="637" width="1" height="51"/><rect x="1030" y="638" width="1" height="50"/><rect x="1038" y="634" width="1" height="54"/><rect x="1046" y="630" width="1" height="58"/><rect x="1054" y="621" width="1" height="67"/><rect x="1062" y="613" width="1" height="75"/><rect x="1070" y="612" width="1" height="76"/><rect x="1078" y="612" width="1" height="76"/><rect x="1086" y="616" width="1" height="72"/><rect x="1094" y="616" width="1" height="72"/><rect x="1102" y="626" width="1" height="62"/><rect x="1110" y="631" width="1" height="57"/><rect x="1118" y="645" width="1" height="43"/><rect x="1126" y="654" width="1" height="34"/><rect x="1134" y="665" width="1" height="23"/><rect x="1142" y="666" width="1" height="22"/><rect x="1150" y="673" width="1" height="15"/><rect x="1158" y="680" width="1" height="8"/><rect x="1166" y="687" width="1" height="1"/><rect x="1174" y="687" width="1" height="7"/><rect x="1182" y="687" width="1" height="10"/><rect x="1190" y="687" width="1" height="8"/><rect x="1198" y="687" width="1" height="12"/><rect x="1206" y="687" width="1" height="14"/><rect x="1214" y="687" width="1" height="14"/><rect x="1222" y="687" width="1" height="13"/><rect x="1230" y="687" width="1" height="9"/><rect x="1238" y="687" width="1" height="10"/><rect x="1246" y="687" width="1" height="12"/><rect x="1254" y="687" width="1" height="16"/><rect x="1262" y="687" width="1" height="25"/><rect x="1270" y="687" width="1" height="32"/><rect x="1278" y="687" width="1" height="33"/><rect x="1286" y="687" width="1" height="36"/><rect x="1294" y="687" width="1" height="34"/><rect x="1302" y="687" width="1" height="32"/><rect x="1310" y="687" width="1" height="25"/><rect x="1318" y="687" width="1" height="23"/><rect x="1326" y="687" width="1" height="17"/><rect x="1334" y="687" width="1" height="16"/><rect x="1342" y="687" width="1" height="17"/><rect x="1350" y="687" width="1" height="16"/><rect x="1358" y="687" width="1" height="12"/><rect x="1366" y="687" width="1" height="10"/><rect x="1374" y="687" width="1" height="7"/><rect x="1382" y="687" width="1" height="3"/><rect x="1390" y="687" width="1" height="2"/><rect x="1398" y="687" width="1" height="3"/><rect x="1406" y="687" width="1" height="2"/><rect x="1414" y="686" width="1" height="2"/></g><polyline points="-1.5,686.5 6.5,688.3 14.5,690.0 22.5,692.5 30.5,694.1 38.5,694.6 46.5,694.4 54.5,693.5 62.5,691.5 70.5,690.6 78.5,689.3 86.5,688.0 94.5,686.3 102.5,684.3 110.5,682.6 118.5,681.0 126.5,679.7 134.5,678.7 142.5,678.3 150.5,678.0 158.5,677.6 166.5,677.5 174.5,678.4 182.5,680.0 190.5,682.5 198.5,685.3 206.5,688.6 214.5,691.8 222.5,695.0 230.5,697.5 238.5,699.5 246.5,701.2 254.5,702.6 262.5,704.1 270.5,705.9 278.5,707.6 286.5,710.1 294.5,713.2 302.5,716.9 310.5,721.0 318.5,724.8 326.5,728.0 334.5,730.0 342.5,730.6 350.5,730.1 358.5,728.4 366.5,724.9 374.5,720.4 382.5,715.2 390.5,710.0 398.5,705.0 406.5,700.4 414.5,696.3 422.5,692.4 430.5,688.4 438.5,685.0 446.5,682.3 454.5,680.2 462.5,678.4 470.5,677.3 478.5,676.6 486.5,675.5 494.5,674.6 502.5,672.9 510.5,671.0 518.5,668.3 526.5,664.5 534.5,659.8 542.5,654.3 550.5,648.3 558.5,642.8 566.5,637.2 574.5,632.7 582.5,629.1 590.5,626.5 598.5,624.9 606.5,624.1 614.5,623.6 622.5,623.4 630.5,623.3 638.5,623.9 646.5,625.1 654.5,626.6 662.5,628.1 670.5,629.6 678.5,631.7 686.5,634.3 694.5,637.2 702.5,640.7 710.5,644.0 718.5,647.2 726.5,650.4 734.5,653.7 742.5,656.6 750.5,659.3 758.5,661.7 766.5,664.3 774.5,666.6 782.5,668.7 790.5,670.6 798.5,672.0 806.5,672.3 814.5,672.2 822.5,671.2 830.5,669.3 838.5,666.4 846.5,663.1 854.5,659.3 862.5,655.0 870.5,650.1 878.5,645.8 886.5,641.7 894.5,637.7 902.5,633.9 910.5,629.3 918.5,624.0 926.5,618.3 934.5,613.0 942.5,607.9 950.5,603.4 958.5,600.0 966.5,598.3 974.5,598.5 982.5,600.6 990.5,604.0 998.5,608.3 1006.5,613.0 1014.5,618.4 1022.5,623.7 1030.5,628.5 1038.5,631.4 1046.5,632.5 1054.5,632.0 1062.5,630.3 1070.5,628.3 1078.5,626.0 1086.5,623.9 1094.5,621.5 1102.5,620.2 1110.5,619.9 1118.5,621.5 1126.5,625.2 1134.5,631.0 1142.5,636.9 1150.5,643.7 1158.5,650.8 1166.5,658.7 1174.5,666.2 1182.5,673.5 1190.5,679.0 1198.5,683.9 1206.5,687.9 1214.5,691.7 1222.5,694.6 1230.5,696.4 1238.5,697.4 1246.5,697.9 1254.5,698.5 1262.5,700.4 1270.5,702.6 1278.5,704.7 1286.5,707.1 1294.5,709.4 1302.5,712.0 1310.5,713.6 1318.5,714.9 1326.5,715.1 1334.5,714.1 1342.5,712.4 1350.5,710.5 1358.5,707.9 1366.5,705.2 1374.5,702.3 1382.5,699.8 1390.5,697.5 1398.5,695.9 1406.5,694.3 1414.5,692.5" fill="none" stroke="#ff0000" stroke-width="1" stroke-dasharray="3,3"/><line x1="1283" y1="721.5" x2="1413.3" y2="690.8" stroke="#ff0000" stroke-width="3" stroke-linecap="round"/><polygon points="1423,688.5 1412.5,696.1 1410.2,686.4" fill="#ff0000"/></g>
<g clip-path="url(#crsi)"><line x1="0" y1="784.5" x2="1686" y2="784.5" stroke="#c0c0c0" stroke-dasharray="3,3" stroke-dashoffset="1"/><line x1="0" y1="835.5" x2="1686" y2="835.5" stroke="#c0c0c0" stroke-dasharray="3,3" stroke-dashoffset="1"/><line x1="0" y1="896.5" x2="1686" y2="896.5" stroke="#c0c0c0" stroke-dasharray="3,3" stroke-dashoffset="1"/><polyline points="-1.5,832.3 6.5,838.7 14.5,847.1 22.5,846.1 30.5,833.7 38.5,827.3 46.5,830.3 54.5,831.1 62.5,826.8 70.5,825.3 78.5,830.3 86.5,843.1 94.5,833.7 102.5,823.5 110.5,825.3 118.5,825.3 126.5,834.4 134.5,828.6 142.5,836.2 150.5,836.2 158.5,836.2 166.5,839.5 174.5,847.1 182.5,850.9 190.5,852.2 198.5,853.2 206.5,859.1 214.5,849.7 222.5,846.6 230.5,838.2 238.5,839.5 246.5,850.9 254.5,846.6 262.5,861.6 270.5,866.2 278.5,864.6 286.5,871.8 294.5,874.3 302.5,863.4 310.5,866.7 318.5,860.3 326.5,847.6 334.5,842.0 342.5,834.4 350.5,836.2 358.5,838.0 366.5,820.4 374.5,820.4 382.5,823.5 390.5,840.0 398.5,832.4 406.5,827.3 414.5,828.3 422.5,824.3 430.5,819.7 438.5,817.6 446.5,825.3 454.5,830.6 462.5,833.7 470.5,843.8 478.5,838.0 486.5,819.7 494.5,822.2 502.5,805.7 510.5,808.2 518.5,803.9 526.5,798.6 534.5,802.4 542.5,803.7 550.5,804.4 558.5,801.4 566.5,800.1 574.5,798.6 582.5,807.5 590.5,804.4 598.5,804.4 606.5,801.4 614.5,801.1 622.5,797.3 630.5,795.0 638.5,817.9 646.5,814.6 654.5,817.6 662.5,812.6 670.5,808.2 678.5,826.8 686.5,831.1 694.5,824.3 702.5,828.6 710.5,827.3 718.5,830.6 726.5,834.9 734.5,825.3 742.5,820.4 750.5,828.6 758.5,834.9 766.5,841.3 774.5,834.4 782.5,831.4 790.5,833.7 798.5,824.8 806.5,808.2 814.5,808.2 822.5,804.4 830.5,802.4 838.5,801.1 846.5,805.2 854.5,799.9 862.5,796.8 870.5,791.7 878.5,792.2 886.5,787.9 894.5,786.7 902.5,783.6 910.5,776.0 918.5,772.2 926.5,772.2 934.5,793.8 942.5,786.7 950.5,807.0 958.5,812.1 966.5,831.6 974.5,835.7 982.5,826.8 990.5,819.7 998.5,819.7 1006.5,823.0 1014.5,819.7 1022.5,822.2 1030.5,818.4 1038.5,807.7 1046.5,806.2 1054.5,798.6 1062.5,795.5 1070.5,810.3 1078.5,809.5 1086.5,821.2 1094.5,812.6 1102.5,832.9 1110.5,827.8 1118.5,843.8 1126.5,839.5 1134.5,843.1 1142.5,832.6 1150.5,840.5 1158.5,843.8 1166.5,848.9 1174.5,843.3 1182.5,843.3 1190.5,835.4 1198.5,844.6 1206.5,841.3 1214.5,839.5 1222.5,838.7 1230.5,832.6 1238.5,839.0 1246.5,841.3 1254.5,846.4 1262.5,856.0 1270.5,856.5 1278.5,847.6 1286.5,845.6 1294.5,842.2 1302.5,845.3 1310.5,835.5 1318.5,840.4 1326.5,830.4 1334.5,838.1 1342.5,841.2 1350.5,839.0 1358.5,832.2 1366.5,835.3 1374.5,831.4 1382.5,831.2 1390.5,828.5 1398.5,841.2 1406.5,837.1 1414.5,830.2" fill="none" stroke="#1e90ff" stroke-width="1" /><line x1="1267" y1="856.5" x2="1380.2" y2="835.3" stroke="#ff0000" stroke-width="3" stroke-linecap="round"/><polygon points="1390,833.5 1379.1,840.6 1377.3,830.8" fill="#ff0000"/></g>
<g fill="#000">
<rect x="0" y="21" width="1686" height="1"/>
<rect x="1685" y="21" width="1" height="902"/>
<rect x="0" y="574" width="1686" height="1"/>
<rect x="0" y="576" width="1686" height="1"/>
<rect x="0" y="746" width="1686" height="1"/>
<rect x="0" y="748" width="1686" height="1"/>
<rect x="0" y="922" width="1686" height="1"/>
</g>
<g font-size="9.3" fill="#000" font-family="'Liberation Sans', Arial, sans-serif"><rect x="1686" y="43" width="3" height="1"/><text x="1690.5" y="47" letter-spacing="0.3">31187.5</text><rect x="1686" y="76" width="3" height="1"/><text x="1690.5" y="80" letter-spacing="0.3">30676.0</text><rect x="1686" y="109" width="3" height="1"/><text x="1690.5" y="113" letter-spacing="0.3">30164.5</text><rect x="1686" y="142" width="3" height="1"/><text x="1690.5" y="146" letter-spacing="0.3">29637.5</text><rect x="1686" y="175" width="3" height="1"/><text x="1690.5" y="179" letter-spacing="0.3">29126.0</text><rect x="1686" y="208" width="3" height="1"/><text x="1690.5" y="212" letter-spacing="0.3">28614.5</text><rect x="1686" y="241" width="3" height="1"/><text x="1690.5" y="245" letter-spacing="0.3">28087.5</text><rect x="1686" y="274" width="3" height="1"/><text x="1690.5" y="278" letter-spacing="0.3">27576.0</text><rect x="1686" y="307" width="3" height="1"/><text x="1690.5" y="311" letter-spacing="0.3">27064.5</text><rect x="1686" y="340" width="3" height="1"/><text x="1690.5" y="344" letter-spacing="0.3">26553.0</text><rect x="1686" y="373" width="3" height="1"/><text x="1690.5" y="377" letter-spacing="0.3">26026.0</text><rect x="1686" y="406" width="3" height="1"/><text x="1690.5" y="410" letter-spacing="0.3">25514.5</text><rect x="1686" y="439" width="3" height="1"/><text x="1690.5" y="443" letter-spacing="0.3">25003.0</text><rect x="1686" y="472" width="3" height="1"/><text x="1690.5" y="476" letter-spacing="0.3">24476.0</text><rect x="1686" y="505" width="3" height="1"/><text x="1690.5" y="509" letter-spacing="0.3">23964.5</text><rect x="1686" y="538" width="3" height="1"/><text x="1690.5" y="542" letter-spacing="0.3">23453.0</text><rect x="1686" y="571" width="3" height="1"/><text x="1690.5" y="575" letter-spacing="0.3">22941.5</text><rect x="1686" y="578" width="2" height="1"/><text x="1689" y="587">905.5</text><rect x="1686" y="687" width="2" height="1"/><text x="1689" y="690.5">0.00</text><rect x="1686" y="745" width="2" height="1"/><text x="1689" y="743.5">-488.99</text><rect x="1686" y="750" width="2" height="1"/><text x="1689" y="758.5">100</text><rect x="1685" y="784" width="1" height="1" fill="#fff"/><text x="1688" y="788">80</text><rect x="1685" y="835" width="1" height="1" fill="#fff"/><text x="1688" y="839">50</text><rect x="1685" y="896" width="1" height="1" fill="#fff"/><text x="1688" y="900">15</text><text x="1689" y="918.5">0</text></g>
<g font-size="9.3" font-family="'Liberation Sans', Arial, sans-serif"><rect x="1687" y="127" width="41" height="11" fill="#ff0000"/><text x="1690.5" y="135.8" fill="#fff" letter-spacing="0.3">29778.4</text><rect x="1687" y="148" width="41" height="11" fill="#ff0000"/><text x="1690.5" y="156.8" fill="#fff" letter-spacing="0.3">29450.7</text><rect x="1687" y="174" width="41" height="11" fill="#000"/><text x="1690.5" y="182.8" fill="#fff" letter-spacing="0.3">29044.0</text><rect x="1687" y="182" width="41" height="11" fill="#32cd32"/><text x="1690.5" y="190.8" fill="#fff" letter-spacing="0.3">28920.0</text><rect x="1687" y="206" width="41" height="11" fill="#0000ff"/><text x="1690.5" y="214.8" fill="#fff" letter-spacing="0.3">28545.3</text><rect x="1687" y="229" width="41" height="11" fill="#0000ff"/><text x="1690.5" y="237.8" fill="#fff" letter-spacing="0.3">28186.3</text></g>
<g font-size="9.3" fill="#000" font-family="'Liberation Sans', Arial, sans-serif"><rect x="-2" y="923" width="1" height="3"/><text x="-3.5" y="935" letter-spacing="0.2">5 Aug 2020</text><rect x="62" y="923" width="1" height="3"/><text x="60.5" y="935" letter-spacing="0.2">17 Aug 2020</text><rect x="126" y="923" width="1" height="3"/><text x="124.5" y="935" letter-spacing="0.2">27 Aug 2020</text><rect x="190" y="923" width="1" height="3"/><text x="188.5" y="935" letter-spacing="0.2">8 Sep 2020</text><rect x="254" y="923" width="1" height="3"/><text x="252.5" y="935" letter-spacing="0.2">18 Sep 2020</text><rect x="318" y="923" width="1" height="3"/><text x="316.5" y="935" letter-spacing="0.2">30 Sep 2020</text><rect x="382" y="923" width="1" height="3"/><text x="380.5" y="935" letter-spacing="0.2">14 Oct 2020</text><rect x="446" y="923" width="1" height="3"/><text x="444.5" y="935" letter-spacing="0.2">27 Oct 2020</text><rect x="510" y="923" width="1" height="3"/><text x="508.5" y="935" letter-spacing="0.2">6 Nov 2020</text><rect x="574" y="923" width="1" height="3"/><text x="572.5" y="935" letter-spacing="0.2">18 Nov 2020</text><rect x="638" y="923" width="1" height="3"/><text x="636.5" y="935" letter-spacing="0.2">30 Nov 2020</text><rect x="702" y="923" width="1" height="3"/><text x="700.5" y="935" letter-spacing="0.2">10 Dec 2020</text><rect x="766" y="923" width="1" height="3"/><text x="764.5" y="935" letter-spacing="0.2">22 Dec 2020</text><rect x="830" y="923" width="1" height="3"/><text x="828.5" y="935" letter-spacing="0.2">5 Jan 2021</text><rect x="894" y="923" width="1" height="3"/><text x="892.5" y="935" letter-spacing="0.2">15 Jan 2021</text><rect x="958" y="923" width="1" height="3"/><text x="956.5" y="935" letter-spacing="0.2">27 Jan 2021</text><rect x="1022" y="923" width="1" height="3"/><text x="1020.5" y="935" letter-spacing="0.2">8 Feb 2021</text><rect x="1086" y="923" width="1" height="3"/><text x="1084.5" y="935" letter-spacing="0.2">22 Feb 2021</text><rect x="1150" y="923" width="1" height="3"/><text x="1148.5" y="935" letter-spacing="0.2">4 Mar 2021</text><rect x="1214" y="923" width="1" height="3"/><text x="1212.5" y="935" letter-spacing="0.2">16 Mar 2021</text><rect x="1278" y="923" width="1" height="3"/><text x="1276.5" y="935" letter-spacing="0.2">26 Mar 2021</text><rect x="1342" y="923" width="1" height="3"/><text x="1340.5" y="935" letter-spacing="0.2">12 Apr 2021</text><rect x="1406" y="923" width="1" height="3"/><text x="1404.5" y="935" letter-spacing="0.2">22 Apr 2021</text></g>
<g font-family="'Liberation Sans', Arial, sans-serif" font-size="9.3" fill="#000">
<polygon points="1,32 8,32 4.5,28" fill="#000"/>
<text x="13" y="33" letter-spacing="0.3">HK50-,Daily</text><text x="70" y="33">28708.0 29089.0 28705.0 29044.0</text>
<text x="1.5" y="589" letter-spacing="0.2">MACD(12,26,9) 8.11 -45.13</text>
<text x="1.5" y="761" letter-spacing="0.2">RSI(14) 53.5527</text>
</g>
<polygon points="1425.5,22 1435.5,22 1430.5,27" fill="#c0c0c0" shape-rendering="geometricPrecision"/>
<g>
<path d="M1,41 H53 V65 H110 V105 H1 Z" fill="url(#gpan)"/>
<path d="M1,41 H53 V65 H1 Z" fill="url(#gtab)"/>
<path d="M1.5,41.5 H52.5 V65.5 H109.5 V104.5 H1.5 Z" fill="none" stroke="#b40000"/>
<path d="M112,65 H168 V41 H220 V105 H112 Z" fill="url(#gpan)"/>
<path d="M168,41 H220 V65 H168 Z" fill="url(#gtab)"/>
<path d="M112.5,65.5 H168.5 V41.5 H219.5 V104.5 H112.5 Z" fill="none" stroke="#b40000"/>
<rect x="5" y="64" width="44" height="1" fill="#8a0000"/><rect x="5" y="65" width="44" height="1" fill="#f06a6a"/>
<rect x="172" y="64" width="44" height="1" fill="#8a0000"/><rect x="172" y="65" width="44" height="1" fill="#f06a6a"/>
<rect x="55.5" y="41.5" width="110" height="21" fill="#fff" stroke="#a9a9a9"/>
<rect x="56" y="42" width="20" height="20" fill="url(#gbtn)"/><rect x="76" y="42" width="1" height="20" fill="#a9a9a9"/>
<rect x="145" y="42" width="20" height="20" fill="url(#gbtn)"/><rect x="144" y="42" width="1" height="20" fill="#a9a9a9"/>
<polygon points="63,50 68,50 65.5,53" fill="#4a5fc8"/>
<polygon points="152,53 157,53 154.5,50" fill="#4a5fc8"/>
<text x="142.5" y="56" font-size="12.4" letter-spacing="0.4" text-anchor="end" fill="#000" font-family="'Liberation Sans', Arial, sans-serif">1.00</text>
<g fill="#fff" font-family="'Liberation Sans', Arial, sans-serif">
<text x="13" y="57" font-size="12" textLength="25.5" lengthAdjust="spacingAndGlyphs">SELL</text>
<text x="181.5" y="57" font-size="12">BUY</text>
<text x="17" y="96" font-size="12.5" font-weight="bold">29042</text>
<text x="54" y="96" font-size="33">.5</text>
<text x="127" y="96" font-size="12.5" font-weight="bold">29057</text>
<text x="164" y="96" font-size="33">.5</text>
</g></g>
<g shape-rendering="geometricPrecision"><rect x="0" y="0" width="9" height="12" fill="#2f74c8"/><rect x="0" y="0" width="8" height="11" fill="#fff"/><rect x="0" y="0" width="8" height="0.8" fill="#b8d0f4"/><rect x="0" y="2" width="8" height="0.8" fill="#b8d0f4"/><rect x="0" y="4.2" width="8" height="0.8" fill="#b8d0f4"/><rect x="0" y="6.4" width="8" height="0.8" fill="#b8d0f4"/><rect x="21.5" y="-1.5" width="12" height="11.8" fill="#fff" stroke="#a8a290"/><rect x="23" y="1" width="1" height="5" fill="#707070"/><rect x="28" y="2" width="2" height="6" fill="#9aaabb"/><circle cx="29.4" cy="6.3" r="4.6" fill="#e4f2fc" fill-opacity="0.85" stroke="#6a9ee0" stroke-width="1.1"/><line x1="33.6" y1="10" x2="38" y2="13.9" stroke="#d0a020" stroke-width="2.6"/><rect x="46" y="0" width="1" height="15" fill="#a0a0a0"/><rect x="56.5" y="-1.5" width="11" height="12" rx="1" fill="#fff" stroke="#6a6a6a"/><rect x="58" y="3" width="6" height="0.9" fill="#8a8a8a"/><rect x="58" y="5.3" width="6" height="0.9" fill="#8a8a8a"/><rect x="58" y="7.5" width="6" height="0.9" fill="#8a8a8a"/><path d="M64.2,3.6 h3.8 v3.9 h3.9 v3.1 h-3.9 v3.9 h-3.8 v-3.9 h-4 v-3.1 h4 z" fill="#20e030" stroke="#0a9a1a" stroke-width="0.9"/><text x="75" y="8" font-size="12" fill="#000" font-family="'Liberation Sans', 'Noto Sans CJK SC', sans-serif">新订单</text><polygon points="123.2,6.6 128.8,0 139,6 132.5,12.8" fill="#b87818"/><polygon points="123.2,5.6 128.8,-1 139,5 131.6,11.2" fill="#eac234"/><polygon points="124.5,5.6 129,0.3 135,4 130,9.5" fill="#f6dc5a"/><rect x="153" y="-1" width="11" height="7.5" fill="#7ab8f4"/><rect x="153" y="-1" width="3" height="7.5" fill="#1e8ef0"/><rect x="157.5" y="1" width="5" height="1" fill="#fff"/><rect x="157.5" y="3" width="4" height="1" fill="#fff"/><path d="M152.5,12.3 Q150.6,12 151.4,9.8 Q152,8 154.2,8.4 Q155,5.4 158.2,5.6 Q161,5.6 161.8,7.8 Q163.8,6.8 165.2,8.6 Q167.4,9.4 166.6,11.4 Q166,12.6 164.6,12.5 Z" fill="#eef1f8" stroke="#7088b8" stroke-width="0.9"/><circle cx="187" cy="4.8" r="7.6" fill="none" stroke="#c6d6ee" stroke-width="1"/><circle cx="187" cy="4.8" r="5.6" fill="none" stroke="#86a8e0" stroke-width="1"/><circle cx="187" cy="4.8" r="3.4" fill="none" stroke="#5a86d8" stroke-width="1"/><path d="M191.5,1 A7.6,7.6 0 0 1 187.5,12.4" fill="none" stroke="#a8d4a8" stroke-width="1.6"/><circle cx="187" cy="4.8" r="1.7" fill="#2a5ad0"/><rect x="186.8" y="5" width="1.3" height="8" fill="#22aa22"/><polygon points="206,4 220,4 215,12.8 212,12.8" fill="#f4dc50" stroke="#c8a020" stroke-width="0.6"/><ellipse cx="214" cy="1.6" rx="8" ry="3.4" fill="#4a9ae0"/><ellipse cx="214" cy="0.8" rx="5" ry="2" fill="#8cc4f0"/><circle cx="218.3" cy="8.9" r="4.3" fill="#d41c10"/><rect x="216.8" y="7.4" width="3" height="3" fill="#fff"/><text x="227.5" y="8" font-size="11.6" fill="#000" font-family="'Liberation Sans', 'Noto Sans CJK SC', sans-serif">自动交易</text><rect x="282" y="0" width="1" height="15" fill="#a0a0a0"/><rect x="283" y="0" width="1" height="15" fill="#fcfcfc"/><rect x="286" y="1" width="3" height="1" fill="#a8a8a8"/><rect x="286" y="3" width="3" height="1" fill="#a8a8a8"/><rect x="286" y="5" width="3" height="1" fill="#a8a8a8"/><rect x="286" y="7" width="3" height="1" fill="#a8a8a8"/><rect x="286" y="9" width="3" height="1" fill="#a8a8a8"/><rect x="286" y="11" width="3" height="1" fill="#a8a8a8"/><rect x="286" y="13" width="3" height="1" fill="#a8a8a8"/><rect x="300" y="0" width="1" height="13" fill="#555"/><rect x="298" y="10" width="14" height="1" fill="#555"/><polygon points="309.5,8.5 312.5,10.5 309.5,12.5" fill="#555"/><rect x="306" y="1" width="1" height="7" fill="#20a020"/><rect x="307" y="1" width="2" height="1" fill="#20a020"/><rect x="304" y="6" width="2" height="1" fill="#20a020"/><rect x="303" y="8" width="3" height="1" fill="#20a020"/><rect x="320" y="0" width="1" height="15" fill="#a0a0a0"/><rect x="321" y="0" width="1" height="15" fill="#fcfcfc"/><rect x="321" y="0" width="24" height="15" fill="#f8f8f8"/><rect x="321" y="0" width="1" height="15" fill="#a0a0a0"/><rect x="329" y="0" width="1" height="13" fill="#555"/><rect x="327" y="10" width="14" height="1" fill="#555"/><polygon points="338.5,8.5 341.5,10.5 338.5,12.5" fill="#555"/><rect x="333" y="0" width="1" height="8" fill="#118811"/><rect x="332" y="0" width="4" height="6" fill="#22cc22" stroke="#118811" stroke-width="0.6"/><rect x="356" y="0" width="1" height="13" fill="#555"/><rect x="354" y="10" width="14" height="1" fill="#555"/><polygon points="365.5,8.5 368.5,10.5 365.5,12.5" fill="#555"/><polyline points="355,8 360,3 364,4 367,6" fill="none" stroke="#20a020" stroke-width="1.2"/><rect x="377" y="0" width="1" height="15" fill="#a0a0a0"/><rect x="378" y="0" width="1" height="15" fill="#fcfcfc"/><circle cx="391.5" cy="4.5" r="4.8" fill="#d6e8f8" stroke="#4a90d8" stroke-width="1.3"/><rect x="388.5" y="4" width="6" height="1.4" fill="#2a6ac0"/><rect x="390.8" y="1.5" width="1.4" height="6" fill="#2a6ac0"/><line x1="395.0" y1="8" x2="400.0" y2="12.5" stroke="#c8a010" stroke-width="2.4"/><circle cx="419.5" cy="4.5" r="4.8" fill="#d6e8f8" stroke="#4a90d8" stroke-width="1.3"/><rect x="416.5" y="4" width="6" height="1.4" fill="#2a6ac0"/><line x1="423.0" y1="8" x2="428.0" y2="12.5" stroke="#c8a010" stroke-width="2.4"/><rect x="442" y="0" width="8" height="6" fill="#38a838"/><rect x="450" y="0" width="8" height="6" fill="#3070d0"/><rect x="442" y="6" width="8" height="7" fill="#3070d0"/><rect x="450" y="6" width="8" height="7" fill="#38a838"/><rect x="443" y="2" width="6" height="1" fill="#fff"/><rect x="451" y="2" width="6" height="1" fill="#fff"/><rect x="443" y="9" width="6" height="1" fill="#fff"/><rect x="451" y="9" width="6" height="1" fill="#fff"/><rect x="467" y="0" width="1" height="15" fill="#a0a0a0"/><rect x="468" y="0" width="1" height="15" fill="#fcfcfc"/><rect x="471" y="0" width="1" height="15" fill="#a0a0a0"/><rect x="472" y="0" width="1" height="15" fill="#fcfcfc"/><rect x="473" y="0" width="24" height="15" fill="#f8f8f8"/><rect x="473" y="0" width="1" height="15" fill="#a0a0a0"/><rect x="481" y="0" width="1" height="13" fill="#555"/><rect x="479" y="10" width="14" height="1" fill="#555"/><polygon points="490.5,8.5 493.5,10.5 490.5,12.5" fill="#555"/><polygon points="485,2 485,7 489,4.5" fill="#20b020"/><rect x="500" y="0" width="1" height="15" fill="#a0a0a0"/><rect x="501" y="0" width="1" height="15" fill="#fcfcfc"/><rect x="502" y="0" width="23" height="15" fill="#f8f8f8"/><rect x="502" y="0" width="1" height="15" fill="#a0a0a0"/><rect x="509" y="0" width="1" height="13" fill="#555"/><rect x="507" y="10" width="14" height="1" fill="#555"/><polygon points="518.5,8.5 521.5,10.5 518.5,12.5" fill="#555"/><rect x="514" y="1" width="1" height="9" fill="#2060c0"/><polygon points="515,4.5 519,2 519,7" fill="#e85010"/><rect x="529" y="0" width="1" height="15" fill="#a0a0a0"/><rect x="530" y="0" width="1" height="15" fill="#fcfcfc"/><rect x="539.5" y="-1.5" width="11.5" height="12" rx="1" fill="#fff" stroke="#6a6a6a"/><rect x="541" y="2" width="1" height="4" fill="#606060"/><path d="M547.2,3.2 h3.6 v3.8 h3.8 v3.6 h-3.8 v3.9 h-3.6 v-3.9 h-3.9 v-3.6 h3.9 z" fill="#20e030" stroke="#0a9a1a" stroke-width="0.9"/><polygon points="561,4 566,4 563.5,7" fill="#000"/><circle cx="584.8" cy="5.3" r="7.1" fill="#f6f8fb" stroke="#1f6fd6" stroke-width="1.9"/><path d="M584.6,1.6 V5.6 H587.6" fill="none" stroke="#333" stroke-width="1.1"/><rect x="584" y="10" width="1.5" height="0.8" fill="#8ab4e8"/><polygon points="600,4 605,4 602.5,7" fill="#000"/><rect x="616.5" y="-1.5" width="15" height="13" fill="#fff" stroke="#2a6ac8" stroke-width="1.2"/><rect x="617" y="5" width="14" height="1" fill="#2a6ac8"/><polyline points="618,3 622,2 626,2.5 630,1" fill="none" stroke="#c04020"/><polyline points="618,9 622,8 625,9.5 630,7" fill="none" stroke="#30a030"/><polygon points="639,4 644,4 641.5,7" fill="#000"/><rect x="650" y="0" width="1" height="15" fill="#a0a0a0"/><rect x="651" y="0" width="1" height="15" fill="#fcfcfc"/><rect x="654" y="1" width="3" height="1" fill="#a8a8a8"/><rect x="654" y="3" width="3" height="1" fill="#a8a8a8"/><rect x="654" y="5" width="3" height="1" fill="#a8a8a8"/><rect x="654" y="7" width="3" height="1" fill="#a8a8a8"/><rect x="654" y="9" width="3" height="1" fill="#a8a8a8"/><rect x="654" y="11" width="3" height="1" fill="#a8a8a8"/><rect x="654" y="13" width="3" height="1" fill="#a8a8a8"/><rect x="660" y="0" width="1" height="15" fill="#a0a0a0"/><rect x="661" y="0" width="1" height="15" fill="#fcfcfc"/><rect x="661" y="0" width="24" height="15" fill="#f8f8f8"/><rect x="661" y="0" width="1" height="15" fill="#a0a0a0"/><path d="M668,0 L668,9 L670.5,7 L673,12 L675,11 L672.5,6.5 L676,6 Z" fill="#555"/><rect x="693" y="5" width="15" height="1" fill="#555"/><rect x="700" y="0" width="1" height="13" fill="#555"/><rect x="699" y="4" width="3" height="3" fill="#f0f0f0"/><rect x="700" y="5" width="1" height="1" fill="#555"/><rect x="717" y="0" width="1" height="15" fill="#a0a0a0"/><rect x="718" y="0" width="1" height="15" fill="#fcfcfc"/><rect x="734" y="0" width="1" height="12" fill="#555"/><rect x="757" y="5" width="12" height="1" fill="#555"/><line x1="785" y1="12" x2="797.5" y2="0" stroke="#555" stroke-width="1"/><g stroke="#555" stroke-width="1"><line x1="811" y1="8" x2="819" y2="0"/><line x1="813" y1="11" x2="822" y2="2"/><line x1="814" y1="4" x2="816" y2="6"/><line x1="817" y1="3" x2="819" y2="5"/></g><text x="821.5" y="13.5" font-size="6.5" font-weight="bold" fill="#444" font-family="'Liberation Sans', Arial, sans-serif">E</text><g fill="#555"><rect x="840" y="1" width="1" height="1"/><rect x="842" y="1" width="1" height="1"/><rect x="844" y="1" width="1" height="1"/><rect x="846" y="1" width="1" height="1"/><rect x="848" y="1" width="1" height="1"/><rect x="850" y="1" width="1" height="1"/><rect x="852" y="1" width="1" height="1"/><rect x="840" y="3" width="1" height="1"/><rect x="842" y="3" width="1" height="1"/><rect x="844" y="3" width="1" height="1"/><rect x="846" y="3" width="1" height="1"/><rect x="848" y="3" width="1" height="1"/><rect x="850" y="3" width="1" height="1"/><rect x="852" y="3" width="1" height="1"/><rect x="840" y="5" width="1" height="1"/><rect x="842" y="5" width="1" height="1"/><rect x="844" y="5" width="1" height="1"/><rect x="846" y="5" width="1" height="1"/><rect x="848" y="5" width="1" height="1"/><rect x="850" y="5" width="1" height="1"/><rect x="852" y="5" width="1" height="1"/><rect x="840" y="9" width="1" height="1"/><rect x="842" y="9" width="1" height="1"/><rect x="844" y="9" width="1" height="1"/><rect x="846" y="9" width="1" height="1"/><rect x="848" y="9" width="1" height="1"/><rect x="850" y="9" width="1" height="1"/><rect x="852" y="9" width="1" height="1"/></g><text x="850" y="13.5" font-size="6.5" font-weight="bold" fill="#444" font-family="'Liberation Sans', Arial, sans-serif">F</text><text x="870.5" y="10" font-size="11.5" font-weight="bold" fill="#555" font-family="'Liberation Sans', Arial, sans-serif">A</text><rect x="897.5" y="1.5" width="11" height="10" fill="none" stroke="#777" stroke-dasharray="1,1"/><text x="899" y="10.5" font-size="11" font-weight="bold" fill="#555" font-family="'Liberation Sans', Arial, sans-serif">T</text><polygon points="927,0 931,3 927,6 923,3" fill="#555"/><polyline points="925,5 928,8 934,3" fill="none" stroke="#555" stroke-width="1.2"/><polygon points="934,7 938,9.5 934,12 930,9.5" fill="#555"/><polygon points="945,4 950,4 947.5,7" fill="#000"/><rect x="956" y="0" width="1" height="15" fill="#a0a0a0"/><rect x="957" y="0" width="1" height="15" fill="#fcfcfc"/><rect x="960" y="1" width="3" height="1" fill="#a8a8a8"/><rect x="960" y="3" width="3" height="1" fill="#a8a8a8"/><rect x="960" y="5" width="3" height="1" fill="#a8a8a8"/><rect x="960" y="7" width="3" height="1" fill="#a8a8a8"/><rect x="960" y="9" width="3" height="1" fill="#a8a8a8"/><rect x="960" y="11" width="3" height="1" fill="#a8a8a8"/><rect x="960" y="13" width="3" height="1" fill="#a8a8a8"/><rect x="1134" y="0" width="25" height="15" fill="#f8f8f8"/><rect x="1134" y="0" width="1" height="15" fill="#a0a0a0"/><g font-size="9.3" fill="#3a3a3a" font-family="'Liberation Sans', Arial, sans-serif"><text x="972" y="9">M1</text><text x="999.6" y="9">M5</text><text x="1025.4" y="9">M15</text><text x="1053.3" y="9">M30</text><text x="1084.6" y="9">H1</text><text x="1111.4" y="9">H4</text><text x="1140.3" y="9">D1</text><text x="1168" y="9">W1</text><text x="1194.6" y="9">MN</text></g><rect x="1217" y="0" width="1" height="15" fill="#a0a0a0"/><rect x="1218" y="0" width="1" height="15" fill="#fcfcfc"/><circle cx="1687.5" cy="2.5" r="3.6" fill="#f4f6fc" stroke="#2a66d8" stroke-width="1.5"/><line x1="1685" y1="5.2" x2="1680.6" y2="9.8" stroke="#1f55c8" stroke-width="2.6" stroke-linecap="round"/><ellipse cx="1710" cy="7.5" rx="5.8" ry="5" fill="#e4e6ee" stroke="#a8a8a8" stroke-width="0.8"/><polygon points="1706.5,11 1707,14 1710,11.5" fill="#d8dae4" stroke="#909090" stroke-width="0.6"/><circle cx="1718.5" cy="2.3" r="8.3" fill="#dc3a20"/><text x="1714.6" y="6.8" font-size="10" fill="#fff" font-family="'Liberation Sans', Arial, sans-serif">1</text></g>
</svg>
</body></html>
